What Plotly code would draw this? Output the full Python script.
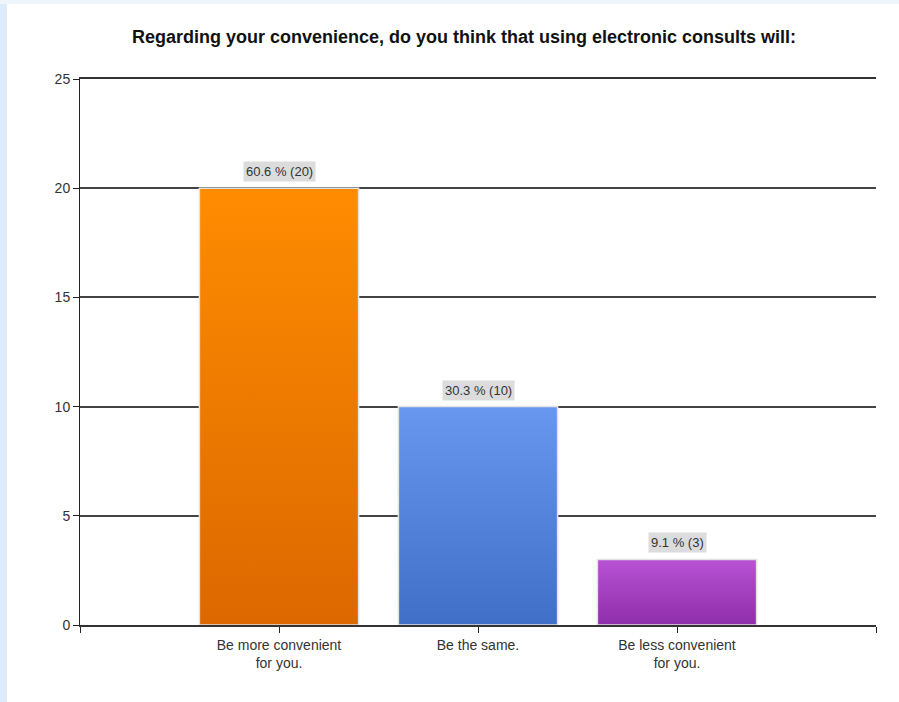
import plotly.graph_objects as go

# Survey responses
categories = ["Be more convenient<br>for you.", "Be the same.", "Be less convenient<br>for you."]
counts = [20, 10, 3]
percents = [60.6, 30.3, 9.1]

# Gradient colours per bar: (bottom, top)
bar_colors = [("#DC6800", "#FF8C00"), ("#3F6FC6", "#6797EE"), ("#8E2EAA", "#B752D4")]

W, H = 899, 702
ML, MR, MT, MB = 80, 23, 79, 77
plot_w = W - ML - MR
plot_h = H - MT - MB
FONT = "Liberation Sans, Arial, sans-serif"

fig = go.Figure()

bar_w = 0.8
for i, (cnt, (c0, c1)) in enumerate(zip(counts, bar_colors)):
    x0, x1 = i - bar_w / 2, i + bar_w / 2
    fig.add_trace(go.Scatter(
        x=[x0, x0, x1, x1, x0],
        y=[0, cnt, cnt, 0, 0],
        mode="lines",
        fill="toself",
        fillgradient=dict(type="vertical", colorscale=[[0, c0], [1, c1]]),
        line=dict(color="#e2e2e2", width=1.5),
        hoverinfo="skip",
        showlegend=False,
    ))
    fig.add_annotation(
        x=i, y=cnt, xref="x", yref="y",
        text=f"{percents[i]} % ({cnt})",
        showarrow=False, yanchor="bottom", yshift=6,
        bgcolor="#dcdcdc", borderpad=2,
        font=dict(family=FONT, size=13, color="#333333"),
    )

# Light blue page frame strips on the left and top
fig.add_shape(type="rect", xref="paper", yref="paper",
              x0=-ML / plot_w, x1=(7 - ML) / plot_w, y0=-MB / plot_h, y1=1 + MT / plot_h,
              fillcolor="#dcecfa", line_width=0, layer="below")
fig.add_shape(type="rect", xref="paper", yref="paper",
              x0=-ML / plot_w, x1=1 + MR / plot_w, y0=1 + (MT - 4) / plot_h, y1=1 + MT / plot_h,
              fillcolor="#eef6fc", line_width=0, layer="below")

fig.update_layout(
    width=W, height=H,
    margin=dict(l=ML, r=MR, t=MT, b=MB),
    paper_bgcolor="white", plot_bgcolor="white",
    title=dict(
        text="<b>Regarding your convenience, do you think that using electronic consults will:</b>",
        x=464 / W, xref="container", xanchor="center",
        y=1 - 37 / H, yref="container", yanchor="middle",
        font=dict(family=FONT, size=18, color="#111111"),
    ),
    font=dict(family=FONT, size=14, color="#333333"),
    showlegend=False,
)

fig.update_xaxes(
    range=[-1, 3],
    tickmode="array",
    tickvals=[-1, 0, 1, 2, 3],
    ticktext=[""] + categories + [""],
    ticks="outside", ticklen=6, tickcolor="#222222",
    showline=True, linecolor="#333333", linewidth=1.5, mirror=True,
    showgrid=False, zeroline=False,
    tickfont=dict(family=FONT, size=14, color="#333333"),
    fixedrange=True,
)
fig.update_yaxes(
    range=[0, 25], dtick=5,
    ticks="outside", ticklen=6, tickcolor="#222222",
    showline=True, linecolor="#222222", linewidth=1,
    showgrid=True, gridcolor="#444444", gridwidth=1.5,
    zeroline=False,
    tickfont=dict(family=FONT, size=14, color="#333333"),
    fixedrange=True,
)

fig.write_html("out.html")
